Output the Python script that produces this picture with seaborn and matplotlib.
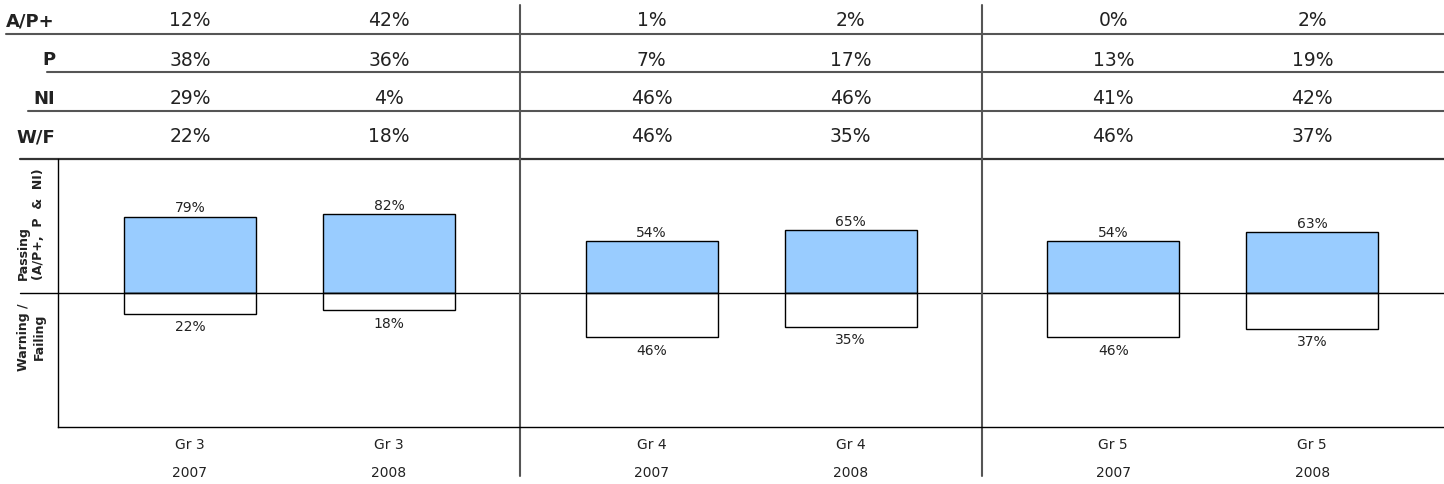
import numpy as np
import pandas as pd
import seaborn as sns
import matplotlib.pyplot as plt
from matplotlib.transforms import blended_transform_factory

# data
grades = ["Gr 3", "Gr 3", "Gr 4", "Gr 4", "Gr 5", "Gr 5"]
years = ["2007", "2008", "2007", "2008", "2007", "2008"]
row_names = ["A/P+", "P", "NI", "W/F"]
adv = [12, 42, 1, 2, 0, 2]
prof = [38, 36, 7, 17, 13, 19]
ni = [29, 4, 46, 46, 41, 42]
wf = [22, 18, 46, 35, 46, 37]
passing = [79, 82, 54, 65, 54, 63]

# bar positions (two bars per grade, wider gap between grades)
xpos = [0, 1, 2.32, 3.32, 4.64, 5.64]

df = pd.DataFrame({"x": xpos, "passing": passing, "failing": [-v for v in wf]})

sns.set_style("white")
plt.rcParams["font.family"] = ["DejaVu Sans"]
txt_col = "#222222"
line_col = "#555555"

W, H = 1444, 484
fig = plt.figure(figsize=(W / 100, H / 100), dpi=100)


def box(l, t, r, b):
    return [l / W, 1 - b / H, (r - l) / W, (b - t) / H]


ax = fig.add_axes(box(58, 159, 1444, 427))
ov = fig.add_axes([0, 0, 1, 1])
ov.set_xlim(0, W)
ov.set_ylim(H, 0)
ov.axis("off")
ov.patch.set_alpha(0)

sns.barplot(data=df, x="x", y="passing", native_scale=True, width=0.663,
            color="#99CCFF", saturation=1, edgecolor="black", linewidth=1,
            errorbar=None, ax=ax)
sns.barplot(data=df, x="x", y="failing", native_scale=True, width=0.663,
            color="white", saturation=1, edgecolor="black", linewidth=1,
            errorbar=None, ax=ax)

ax.bar_label(ax.containers[0], labels=[f"{v}%" for v in passing],
             padding=1, fontsize=10, color=txt_col)
ax.bar_label(ax.containers[1], labels=[f"{v}%" for v in wf],
             padding=4.5, fontsize=10, color=txt_col)

ax.set_xlim(-0.663, 6.302)
ax.set_ylim(-139, 139)
ax.set_xlabel("")
ax.set_ylabel("")
ax.set_yticks([])
ax.set_xticks(xpos, grades)
ax.tick_params(axis="x", length=0, pad=8, labelsize=10, labelcolor=txt_col)
for s in ["top", "right"]:
    ax.spines[s].set_visible(False)
for s in ["left", "bottom"]:
    ax.spines[s].set_color("black")
    ax.spines[s].set_linewidth(1)

# x in data, y in pixels / x in pixels, y in data
tr = blended_transform_factory(ax.transData, ov.transData)
tr2 = blended_transform_factory(ov.transData, ax.transData)

# zero line and top border reaching into the label column
ax.plot([20, W], [0, 0], transform=tr2, color="black", lw=1, clip_on=False)
ax.plot([20, W], [139, 139], transform=tr2, color="#333333", lw=1.6, clip_on=False)

# table on top
rows = [adv, prof, ni, wf]
row_y = [21, 60, 98.5, 137]
line_y = [33.5, 72, 111]
line_x0 = [6, 47, 28]
for name, vals, yc in zip(row_names, rows, row_y):
    ov.text(55, yc, name, ha="right", va="center", fontsize=13,
            fontweight="bold", color=txt_col)
    for x, v in zip(xpos, vals):
        ax.text(x, yc, f"{v}%", transform=tr, ha="center", va="center",
                fontsize=13.5, color=txt_col, clip_on=False)
for x0, y in zip(line_x0, line_y):
    ov.plot([x0, W], [y, y], color=line_col, lw=1.5)

# separators between grades
for m in [(xpos[1] + xpos[2]) / 2, (xpos[3] + xpos[4]) / 2]:
    ax.plot([m, m], [5, 476], transform=tr, color=line_col, lw=1.5, clip_on=False)

# year labels under the grade labels
for x, yr in zip(xpos, years):
    ax.text(x, 473, yr, transform=tr, ha="center", va="center",
            fontsize=10, color=txt_col, clip_on=False)

# side labels
ov.text(31, 224, "Passing\n(A/P+,  P  &  NI)", rotation=90, ha="center",
        va="center", multialignment="left", fontsize=9, fontweight="bold",
        color=txt_col, linespacing=1.3)
ov.text(31, 337, "Warning /\nFailing", rotation=90, ha="center",
        va="center", fontsize=9, fontweight="bold", color=txt_col, linespacing=1.3)

fig.savefig("out.png", dpi=100)
